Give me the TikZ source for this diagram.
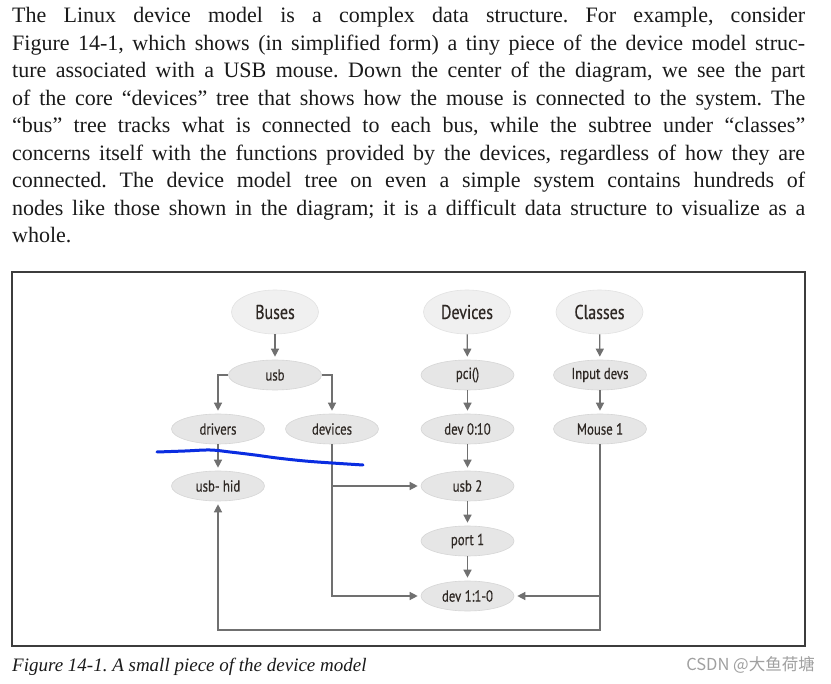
\documentclass[tikz,border=0pt]{standalone}
\usepackage{fontspec}
\setmainfont{Liberation Serif}
\newfontfamily\nodefont[FakeStretch=0.8,FakeBold=0.4]{PT Sans}
\newfontfamily\cjk{Noto Sans CJK SC}
\usetikzlibrary{shapes.geometric,arrows.meta}
\definecolor{hdrfill}{HTML}{F0F0F0}
\definecolor{hdrline}{HTML}{E2E2E2}
\definecolor{subfill}{HTML}{E6E6E6}
\definecolor{subline}{HTML}{D6D6D6}
\definecolor{nodetext}{HTML}{2E2824}
\definecolor{conncol}{HTML}{707070}
\definecolor{framecol}{HTML}{3C3C3C}
\definecolor{ink}{RGB}{10,45,225}
\definecolor{wmark}{HTML}{A0A0A0}
\definecolor{bodytext}{HTML}{1A1A1A}
\tikzset{
  hdr/.style={ellipse, fill=hdrfill, draw=hdrline, line width=0.6pt, minimum width=87pt, minimum height=44pt, inner sep=0pt, text=nodetext, font=\nodefont\fontsize{20}{20}\selectfont},
  sub/.style={ellipse, fill=subfill, draw=subline, line width=0.6pt, minimum width=93pt, minimum height=30pt, inner sep=0pt, text=nodetext, font=\nodefont\fontsize{16}{16}\selectfont},
  conn/.style={draw=conncol, line width=1.3pt, -{Triangle[length=8pt,width=8pt]}, shorten >=3pt},
  bodyline/.style={anchor=base west, inner sep=0pt, text=bodytext, font=\frenchspacing\fontsize{22}{27.5}\selectfont},
}
\newcommand{\bline}[1]{\hbox to 793pt{#1}}
\begin{document}
\frenchspacing
\begin{tikzpicture}[x=1pt,y=-1pt]
\useasboundingbox (0,0) rectangle (831,684);
\fill[white] (0,0) rectangle (831,684);
% paragraph
\node[bodyline] (l1) at (12,23) {\bline{The Linux device model is a complex data structure. For example, consider}};
\node[bodyline] (l2) at (12,50.5) {\bline{Figure 14-1, which shows (in simplified form) a tiny piece of the device model struc-}};
\node[bodyline] (l3) at (12,78) {\bline{ture associated with a USB mouse. Down the center of the diagram, we see the part}};
\node[bodyline] (l4) at (12,105.5) {\bline{of the core “devices” tree that shows how the mouse is connected to the system. The}};
\node[bodyline] (l5) at (12,133) {\bline{“bus” tree tracks what is connected to each bus, while the subtree under “classes”}};
\node[bodyline] (l6) at (12,160.5) {\bline{concerns itself with the functions provided by the devices, regardless of how they are}};
\node[bodyline] (l7) at (12,188) {\bline{connected. The device model tree on even a simple system contains hundreds of}};
\node[bodyline] (l8) at (12,215.5) {\bline{nodes like those shown in the diagram; it is a difficult data structure to visualize as a}};
\node[bodyline] (l9) at (12,243) {whole.};
% frame
\draw[framecol, line width=1.5pt] (12,272) rectangle (805,646);
% nodes
\node[hdr] (buses) at (275,312) {Buses};
\node[hdr] (devs) at (467,312) {Devices};
\node[hdr] (classes) at (599.5,312) {Classes};
\node[sub] (usb) at (275,375) {usb};
\node[sub] (pci) at (467.5,375) {pci()};
\node[sub] (input) at (600,375) {Input devs};
\node[sub] (drivers) at (218,429) {drivers};
\node[sub] (bdev) at (332,429) {devices};
\node[sub] (dev010) at (467.5,429) {dev 0:10};
\node[sub] (mouse) at (600,429) {Mouse 1};
\node[sub] (usbhid) at (218,486) {usb- hid};
\node[sub] (usb2) at (467.5,486) {usb 2};
\node[sub] (port1) at (467.5,541) {port 1};
\node[sub] (dev110) at (467.5,596) {dev 1:1-0};
\coordinate (bot) at (0,630);
% connectors
\draw[conn] (buses) -- (usb);
\draw[conn] (usb.west) -| (drivers.north);
\draw[conn] (usb.east) -| (bdev.north);
\draw[conn] (drivers) -- (usbhid);
\draw[conn] (bdev.south) |- (usb2.west);
\draw[conn] (bdev.south) |- (dev110.west);
\draw[conn] (devs) -- (pci);
\draw[conn] (pci) -- (dev010);
\draw[conn] (dev010) -- (usb2);
\draw[conn] (usb2) -- (port1);
\draw[conn] (port1) -- (dev110);
\draw[conn] (classes) -- (input);
\draw[conn] (input) -- (mouse);
\draw[conn] (mouse.south) |- (usbhid.south |- bot) -- (usbhid.south);
\draw[conn] (mouse.south |- dev110) -- (dev110.east);
% hand-drawn blue line
\draw[ink, line width=3pt, line cap=round, line join=round] plot[smooth, tension=0.6] coordinates {(157,452) (185,451) (210,450) (230,452) (255,455) (277,458) (305,461) (332,463) (363,465)};
% caption
\node[anchor=base west, inner sep=0pt, text=bodytext, font=\itshape\fontsize{19}{19}\selectfont] (cap) at (12,672) {Figure 14-1. A small piece of the device model};
\node[anchor=east, inner sep=0pt, text=wmark, font=\cjk\fontsize{16.5}{16.5}\selectfont] (wm) at (815,665) {CSDN @大鱼荷塘};
\end{tikzpicture}
\end{document}
